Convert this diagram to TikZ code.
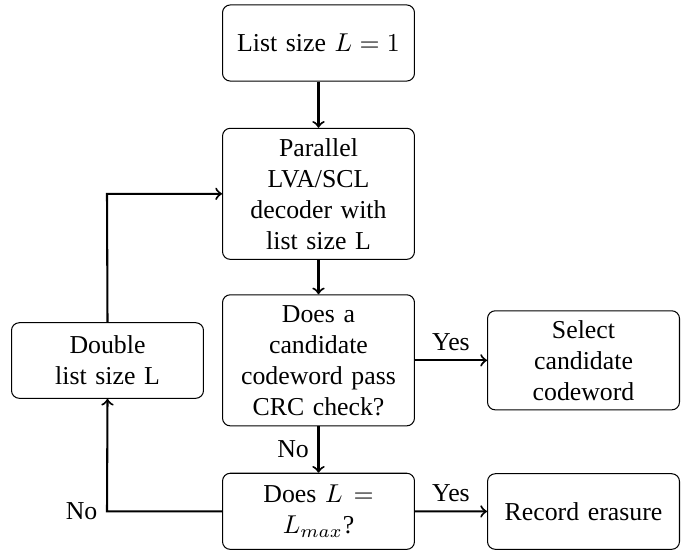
\documentclass[tikz,border=0pt]{standalone}
\usepackage[no-math]{fontspec}
\setmainfont{Liberation Serif}
\begin{document}
\begin{tikzpicture}[x=0.3876pt,y=-0.3876pt,
  box/.style={draw, line width=0.4pt, rounded corners=3pt, align=center, text width=64pt, minimum width=74.4pt, inner sep=0pt},
  arr/.style={thick,->}]
\useasboundingbox (0,0) rectangle (694,550);
\node[box, minimum height=29.5pt] (n1) at (318.5,43) {List size $L=1$};
\node[box, minimum height=50.8pt] (n2) at (318.5,193.8) {Parallel LVA/SCL decoder with list size L};
\node[box, minimum height=50.8pt] (n3) at (318.5,360.3) {Does a candidate codeword pass CRC check?};
\node[box, minimum height=29.3pt] (dbl) at (107.5,360.5) {Double\\ list size L};
\node[box, minimum height=38.4pt] (sel) at (583.5,360.3) {Select\\ candidate\\ codeword};
\node[box, minimum height=29.5pt] (lmax) at (318.5,511.3) {Does $L=$\\ $L_{max}$?};
\node[box, minimum height=29.3pt] (rec) at (583.5,511.5) {Record erasure};
\coordinate (c1) at (107,511.3);
\coordinate (c2) at (107,193.8);
\draw[arr] (n1) -- (n2);
\draw[arr] (n2) -- (n3);
\draw[arr] (n3) -- node[above]{Yes} (sel);
\draw[arr] (n3) -- node[left]{No} (lmax);
\draw[arr] (lmax) -- node[above]{Yes} (rec);
\draw[arr] (lmax.west) -- (c1) node[left]{No} -- (dbl.south);
\draw[arr] (dbl.north) -- (c2) -- (n2.west);
\end{tikzpicture}
\end{document}
